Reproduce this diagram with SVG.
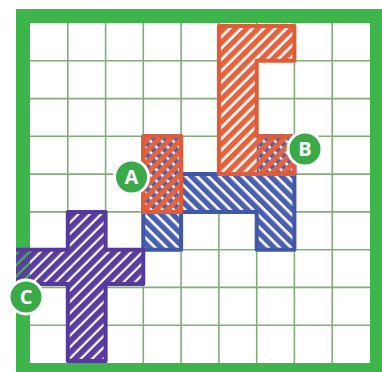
<svg xmlns="http://www.w3.org/2000/svg" width="382" height="372" viewBox="0 0 382 372">
<style>
.grid line{stroke:#82ad7b;stroke-width:1.6}
.border{fill:none;stroke:#3db54a;stroke-width:14}
.back{fill:#ffffff}
.oline{fill:none;stroke:#e05c38;stroke-width:4;stroke-linejoin:round}
.bline{fill:none;stroke:#4157a8;stroke-width:4;stroke-linejoin:round}
.pline{fill:none;stroke:#56399c;stroke-width:4;stroke-linejoin:round}
.badge circle{fill:#3aaa48;stroke:#ffffff;stroke-width:3}
.badge text{fill:#ffffff;font-family:"Open Sans","Liberation Sans",sans-serif;font-weight:700;font-size:20px;text-anchor:middle}
</style>
<defs>
<pattern id="hO" width="8" height="8" patternUnits="userSpaceOnUse" patternTransform="rotate(45)">
<rect x="0" y="0" width="5.4" height="8" fill="#e4633f"/>
</pattern>
<pattern id="hB" width="8" height="8" patternUnits="userSpaceOnUse" patternTransform="rotate(-45)">
<rect x="0" y="0" width="5.4" height="8" fill="#4a5fae"/>
</pattern>
<pattern id="hP" width="8" height="8" patternUnits="userSpaceOnUse" patternTransform="rotate(45)">
<rect x="0" y="0" width="5.8" height="8" fill="#5a3d9f"/>
</pattern>
</defs>
<rect width="382" height="372" fill="#ffffff"/>
<g class="grid">
<line x1="67.8" y1="23" x2="67.8" y2="363"/>
<line x1="105.6" y1="23" x2="105.6" y2="363"/>
<line x1="143.3" y1="23" x2="143.3" y2="363"/>
<line x1="181.1" y1="23" x2="181.1" y2="363"/>
<line x1="218.9" y1="23" x2="218.9" y2="363"/>
<line x1="256.7" y1="23" x2="256.7" y2="363"/>
<line x1="294.4" y1="23" x2="294.4" y2="363"/>
<line x1="332.2" y1="23" x2="332.2" y2="363"/>
<line x1="30" y1="60.8" x2="370" y2="60.8"/>
<line x1="30" y1="98.6" x2="370" y2="98.6"/>
<line x1="30" y1="136.3" x2="370" y2="136.3"/>
<line x1="30" y1="174.1" x2="370" y2="174.1"/>
<line x1="30" y1="211.9" x2="370" y2="211.9"/>
<line x1="30" y1="249.7" x2="370" y2="249.7"/>
<line x1="30" y1="287.4" x2="370" y2="287.4"/>
<line x1="30" y1="325.2" x2="370" y2="325.2"/>
</g>
<rect class="border" x="23" y="16" width="354" height="354"/>
<g id="blue-piece">
<path class="back" d="M143.3,136.3 H181.1 V174.1 H256.7 V136.3 H294.4 V249.7 H256.7 V211.9 H181.1 V249.7 H143.3 Z"/>
<path fill="url(#hB)" d="M143.3,136.3 H181.1 V174.1 H256.7 V136.3 H294.4 V249.7 H256.7 V211.9 H181.1 V249.7 H143.3 Z"/>
<path class="bline" d="M143.3,136.3 H181.1 V174.1 H256.7 V136.3 H294.4 V249.7 H256.7 V211.9 H181.1 V249.7 H143.3 Z"/>
</g>
<g id="orange-piece-c">
<path class="back" d="M218.9,26 H294.4 V60.8 H256.7 V174.1 H218.9 Z"/>
<path fill="url(#hO)" d="M218.9,26 H294.4 V60.8 H256.7 V136.3 H294.4 V174.1 H218.9 Z"/>
<path class="oline" d="M218.9,26 H294.4 V60.8 H256.7 V136.3 H294.4 V174.1 H218.9 Z"/>
</g>
<g id="orange-piece-a">
<path fill="url(#hO)" d="M143.3,136.3 H181.1 V211.9 H143.3 Z"/>
<path class="oline" d="M143.3,136.3 H181.1 V211.9 H143.3 Z"/>
</g>
<g id="purple-cross">
<path class="back" d="M67.8,211.9 H105.6 V249.7 H143.3 V284 H105.6 V361 H67.8 V284 H30 V249.7 H67.8 Z"/>
<path fill="url(#hP)" d="M67.8,211.9 H105.6 V249.7 H143.3 V284 H105.6 V361 H67.8 V284 H16 V249.7 H67.8 Z"/>
<path class="pline" d="M16,249.7 H67.8 V211.9 H105.6 V249.7 H143.3 V284 H105.6 V361 H67.8 V284 H16"/>
</g>
<g id="connectors"></g>
<g id="label-a" class="badge">
<circle cx="131.5" cy="177" r="17"/>
<text x="131.5" y="184">A</text>
</g>
<g id="label-b" class="badge">
<circle cx="305" cy="149" r="17"/>
<text x="305" y="156">B</text>
</g>
<g id="label-c" class="badge">
<circle cx="26" cy="297" r="17"/>
<text x="26" y="304">C</text>
</g>
</svg>
